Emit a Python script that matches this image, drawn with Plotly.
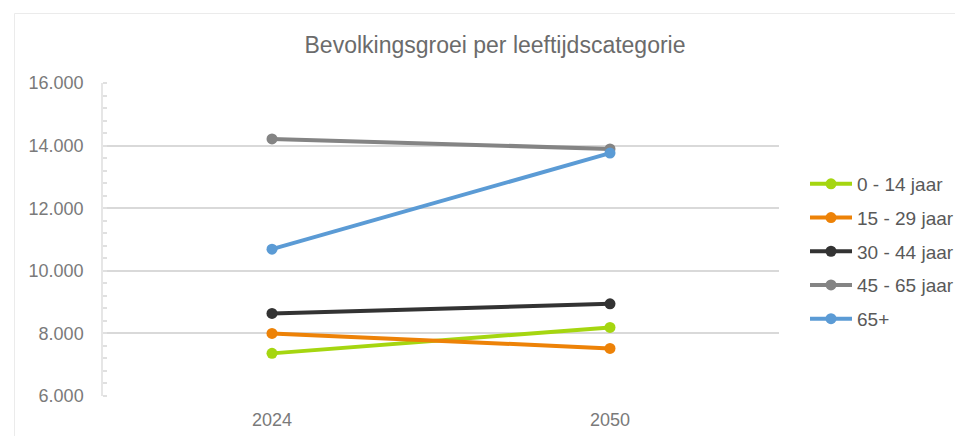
import plotly.graph_objects as go

years = ["2024", "2050"]
series_names = ["0 - 14 jaar", "15 - 29 jaar", "30 - 44 jaar", "45 - 65 jaar", "65+"]
v_0_14 = [7362, 8191]
v_15_29 = [8000, 7521]
v_30_44 = [8638, 8944]
v_45_65 = [14214, 13895]
v_65plus = [10692, 13760]
series_values = [v_0_14, v_15_29, v_30_44, v_45_65, v_65plus]
colors = ["#A5D610", "#ED8207", "#333333", "#848484", "#5B9BD5"]
y_ticks = [6000, 8000, 10000, 12000, 14000, 16000]
y_tick_labels = ["6.000", "8.000", "10.000", "12.000", "14.000", "16.000"]

FONT = "Liberation Sans, Arial, sans-serif"
TXT = "#595959"
TICK = "#7A7A7A"

fig = go.Figure()
for i, (name, vals) in enumerate(zip(series_names, series_values)):
    fig.add_trace(go.Scatter(
        x=years, y=vals, name=name, mode="lines+markers",
        line=dict(color=colors[i], width=4),
        marker=dict(color=colors[i], size=11),
        legendgroup=f"g{i}",
    ))

W, H = 955, 436
L, R, T, B = 103, 955 - 779, 83, 436 - 396
pw, ph = W - L - R, H - T - B

fig.update_layout(
    width=W, height=H,
    margin=dict(l=L, r=R, t=T, b=B, pad=0, autoexpand=False),
    paper_bgcolor="white", plot_bgcolor="white",
    font=dict(family=FONT, color=TXT, size=18),
    title=dict(text="Bevolkingsgroei per leeftijdscategorie",
               x=495 / W, xanchor="center", y=1 - 45 / H, yanchor="middle",
               font=dict(size=23, color="#6B6B6B", family=FONT)),
    showlegend=True,
    legend=dict(x=(805 - L) / pw, xanchor="left", y=(396 - 165) / ph, yanchor="top",
                font=dict(size=19, color=TXT, family=FONT),
                traceorder="grouped", tracegroupgap=6, itemwidth=42,
                bgcolor="rgba(0,0,0,0)", borderwidth=0),
    xaxis=dict(type="category", range=[-0.5, 1.5], showgrid=False,
               showline=False, ticks="", zeroline=False, automargin=False,
               tickfont=dict(size=18, color=TICK), ticklabelstandoff=11),
    yaxis=dict(range=[6000, 16000], tickvals=y_ticks, ticktext=y_tick_labels,
               showgrid=True, gridcolor="#D9D9D9", gridwidth=1.5,
               showline=True, linecolor="#E6E6E6", linewidth=1.5,
               zeroline=False, ticks="", ticklabelstandoff=14, automargin=False,
               tickfont=dict(size=18, color=TICK),
               minor=dict(dtick=400, tick0=6000, ticks="inside", ticklen=4,
                          tickcolor="#E0E0E0", tickwidth=1.5, showgrid=False)),
    shapes=[dict(type="rect", xref="paper", yref="paper",
                 x0=(14.5 - L) / pw, x1=(970 - L) / pw,
                 y0=(396 - 450) / ph, y1=(396 - 13.5) / ph,
                 line=dict(color="#EBEBEB", width=1), fillcolor="rgba(0,0,0,0)",
                 layer="below")],
)

fig.write_html("out.html")
